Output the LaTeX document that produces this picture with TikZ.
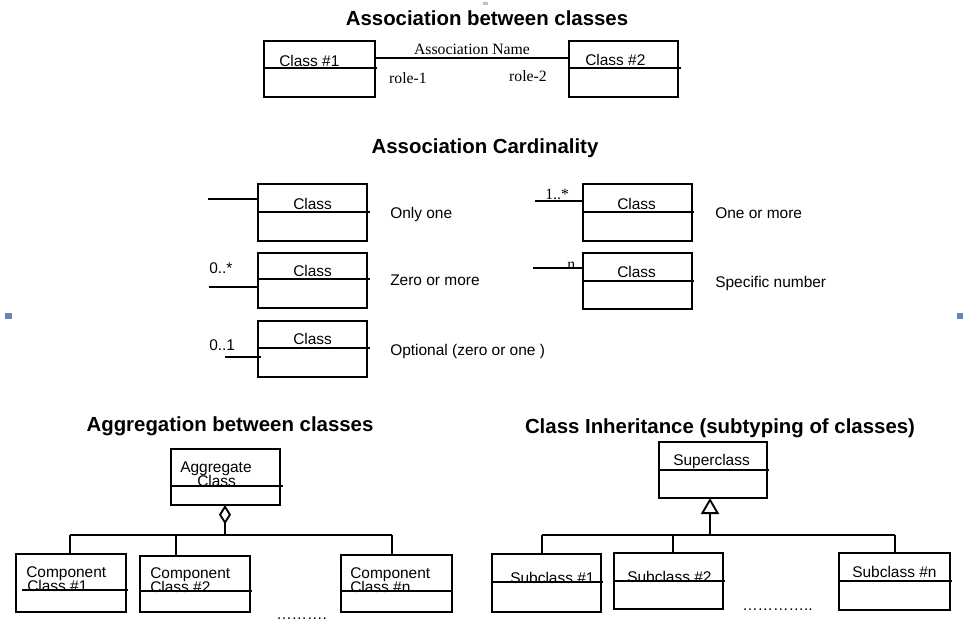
\documentclass[tikz,border=0pt]{standalone}
\usepackage{fontspec}
\setmainfont{Liberation Sans}
\newfontfamily\seriff{Liberation Serif}
\usetikzlibrary{arrows.meta}
\definecolor{markblue}{RGB}{104,132,184}
\newcommand\umlcls[5]{\node[clsbox, minimum width={(#4-#2)*0.75pt}, minimum height={(#5-#3)*0.75pt}] (#1) at (#2,#3) {};}
\begin{document}
\begin{tikzpicture}[x=0.75pt,y=-0.75pt,
  clsbox/.style={draw, line width=1.5pt, anchor=north west, inner sep=0pt, outer sep=0pt},
  divline/.style={line width=1.1pt},
  conn/.style={line width=1.4pt},
  titletxt/.style={inner sep=0pt, anchor=base, font=\fontsize{15.3}{18}\selectfont\bfseries},
  txt/.style={inner sep=0pt, anchor=base west, font=\fontsize{11.6}{13}\selectfont},
  stxt/.style={inner sep=0pt, anchor=base, font=\seriff\fontsize{11.8}{13}\selectfont},
]
\useasboundingbox (0,0) rectangle (968,633);
% slide artefacts
\fill[markblue] (5,313) rectangle (12,319);
\fill[markblue] (957,313) rectangle (963,319);
\fill[markblue!50] (483,2) rectangle (488,5);

% ---------- Association ----------
\node[titletxt] (t1) at (487,25) {Association between classes};
\umlcls{c1}{264}{41}{375}{97}
\umlcls{c2}{569}{41}{678}{97}
\node[txt] (c1t) at (279,66) {Class \#1};
\node[txt] (c2t) at (585,65) {Class \#2};
\draw[divline] (264,68) -- (377,68);
\draw[divline] (569,68) -- (681,68);
\coordinate (ay) at (0,58);
\draw[conn] (c1.east |- ay) -- (c2.west |- ay);
\node[stxt] (an) at (472,54) {Association Name};
\node[stxt] (r1) at (408,83) {role-1};
\node[stxt] (r2) at (528,81) {role-2};

% ---------- Cardinality ----------
\node[titletxt] (t2) at (485,153) {Association Cardinality};
\umlcls{k1}{258}{184}{367}{241}
\umlcls{k2}{258}{253}{367}{308}
\umlcls{k3}{258}{321}{367}{377}
\umlcls{k4}{583}{184}{692}{241}
\umlcls{k5}{583}{253}{692}{309}
\draw[divline] (258,212) -- (370,212);
\draw[divline] (258,279) -- (370,279);
\draw[divline] (258,348) -- (370,348);
\draw[divline] (583,212) -- (694,212);
\draw[divline] (583,281) -- (694,281);
\node[txt] (k1t) at (293,209) {Class};
\node[txt] (k2t) at (293,276) {Class};
\node[txt] (k3t) at (293,344) {Class};
\node[txt] (k4t) at (617,209) {Class};
\node[txt] (k5t) at (617,277) {Class};
\coordinate (e1) at (208,199);
\coordinate (e2) at (209,287);
\coordinate (e3) at (225,357);
\coordinate (e4) at (535,201);
\coordinate (e5) at (533,268);
\draw[conn] (e1) -- (e1 -| k1.west);
\draw[conn] (e2) -- (e2 -| k2.west);
\draw[conn] (e3) -- ([xshift=2.2pt]e3 -| k3.west);
\draw[conn] (e4) -- (e4 -| k4.west);
\draw[conn] (e5) -- (e5 -| k5.west);
\node[txt] (m2) at (209,273) {0..*};
\node[txt] (m3) at (209,350) {0..1};
\node[stxt, anchor=base west] (m4) at (545,199) {1..*};
\node[stxt, anchor=base west] (m5) at (567,269) {n};
\node[txt] (d1) at (390,218) {Only one};
\node[txt] (d2) at (390,285) {Zero or more};
\node[txt] (d3) at (390,355) {Optional (zero or one )};
\node[txt] (d4) at (715,218) {One or more};
\node[txt] (d5) at (715,287) {Specific number};

% ---------- Aggregation ----------
\node[titletxt] (t3) at (230,431) {Aggregation between classes};
\umlcls{agg}{171}{449}{280}{505}
\node[txt] (agt1) at (180,472) {Aggregate};
\node[txt] (agt2) at (197,486) {Class};
\draw[divline] (171,486) -- (283,486);
\umlcls{p1}{16}{554}{126}{612}
\umlcls{p2}{140}{556}{250}{612}
\umlcls{p3}{341}{555}{452}{612}
\node[txt] (p1a) at (26,577) {Component};
\node[txt] (p1b) at (27,591) {Class \#1};
\node[txt] (p2a) at (150,578) {Component};
\node[txt] (p2b) at (150,592) {Class \#2};
\node[txt] (p3a) at (350,578) {Component};
\node[txt] (p3b) at (350,592) {Class \#n};
\draw[divline] (22,590) -- (128,590);
\draw[divline] (140,591) -- (252,591);
\draw[divline] (341,591) -- (453,591);
\coordinate (aj) at (225,535);
\coordinate (ab1) at (70,535);
\coordinate (ab2) at (176,535);
\coordinate (ab3) at (392,535);
\draw[conn, {Diamond[open, length=14.5pt, width=9pt]}-] (agg.south -| aj) -- (aj);
\draw[conn] (ab1) -- (ab3);
\draw[conn] (ab1) -- (ab1 |- p1.north);
\draw[conn] (ab2) -- (ab2 |- p2.north);
\draw[conn] (ab3) -- (ab3 |- p3.north);
\node[txt] (dots1) at (276,619) {……….};

% ---------- Inheritance ----------
\node[titletxt] (t4) at (720,433) {Class Inheritance (subtyping of classes)};
\umlcls{sup}{659}{442}{767}{498}
\draw[divline] (659,470) -- (769,470);
\node[txt] (supt) at (673,465) {Superclass};
\umlcls{s1}{492}{554}{601}{612}
\umlcls{s2}{614}{553}{723}{609}
\umlcls{s3}{839}{553}{950}{610}
\node[txt] (s1t) at (510,583) {Subclass \#1};
\node[txt] (s2t) at (627,582) {Subclass \#2};
\node[txt] (s3t) at (852,577) {Subclass \#n};
\draw[divline] (492,582) -- (603,582);
\draw[divline] (614,581) -- (725,581);
\draw[divline] (839,581) -- (952,581);
\coordinate (ij) at (710,535);
\coordinate (ib1) at (542,535);
\coordinate (ib2) at (673,535);
\coordinate (ib3) at (895,535);
\draw[conn, {Triangle[open, length=12pt, width=13.5pt]}-] (sup.south -| ij) -- (ij);
\draw[conn] (ib1) -- (ib3);
\draw[conn] (ib1) -- (ib1 |- s1.north);
\draw[conn] (ib2) -- (ib2 |- s2.north);
\draw[conn] (ib3) -- (ib3 |- s3.north);
\node[txt] (dots2) at (742,610) {…………..};
\end{tikzpicture}
\end{document}
